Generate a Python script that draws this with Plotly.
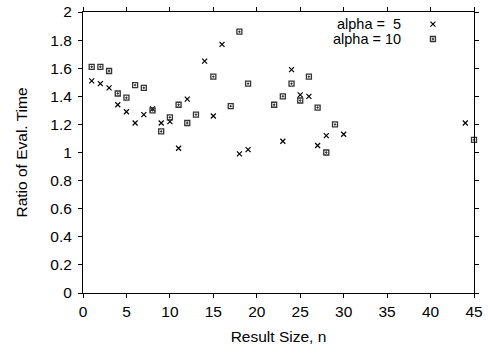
import plotly.graph_objects as go

x_a5 = [1, 2, 3, 4, 5, 6, 7, 8, 9, 10, 11, 12, 14, 15, 16, 18, 19, 23, 24, 25, 26, 27, 28, 30, 44]
y_a5 = [1.51, 1.49, 1.46, 1.34, 1.29, 1.21, 1.27, 1.31, 1.21, 1.22, 1.03, 1.38, 1.65, 1.26, 1.77,
        0.99, 1.02, 1.08, 1.59, 1.41, 1.40, 1.05, 1.12, 1.13, 1.21]

x_a10 = [1, 2, 3, 4, 5, 6, 7, 8, 9, 10, 11, 12, 13, 15, 17, 18, 19, 22, 23, 24, 25, 26, 27, 28, 29, 45]
y_a10 = [1.61, 1.61, 1.58, 1.42, 1.39, 1.48, 1.46, 1.30, 1.15, 1.25, 1.34, 1.21, 1.27, 1.54, 1.33,
         1.86, 1.49, 1.34, 1.40, 1.49, 1.37, 1.54, 1.32, 1.00, 1.20, 1.09]

series_names = ["alpha =  5", "alpha = 10"]
x_ticks = [0, 5, 10, 15, 20, 25, 30, 35, 40, 45]
y_ticks = [0, 0.2, 0.4, 0.6, 0.8, 1, 1.2, 1.4, 1.6, 1.8, 2]

FONT = "Liberation Sans, Arial, sans-serif"
FS = 15.5
mk5 = dict(symbol="x-thin-open", size=5, color="#000", line=dict(width=1.2, color="#000"))
mk10 = dict(symbol="square-open-dot", size=5, color="#333", line=dict(width=1.3, color="#333"))

fig = go.Figure()
fig.add_trace(go.Scatter(x=x_a5, y=y_a5, mode="markers", marker=mk5, name=series_names[0],
                         showlegend=False, cliponaxis=False))
fig.add_trace(go.Scatter(x=x_a10, y=y_a10, mode="markers", marker=mk10, name=series_names[1],
                         showlegend=False, cliponaxis=False))

# legend key samples on an overlay axis spanning [0, 1]
fig.add_trace(go.Scatter(x=[0.895], y=[0.957], mode="markers", marker=mk5, xaxis="x2", yaxis="y2",
                         showlegend=False, hoverinfo="skip", cliponaxis=False))
fig.add_trace(go.Scatter(x=[0.895], y=[0.904], mode="markers", marker=mk10, xaxis="x2", yaxis="y2",
                         showlegend=False, hoverinfo="skip", cliponaxis=False))
for name, yy in zip(series_names, [0.957, 0.904]):
    fig.add_annotation(x=0.815, y=yy, xref="paper", yref="paper", text=name, showarrow=False,
                       xanchor="right", yanchor="middle", borderpad=0,
                       font=dict(family=FONT, size=14.5, color="#000"))

axis_common = dict(showline=True, linecolor="#000", linewidth=1, mirror="ticks", ticks="outside",
                   ticklen=4, tickcolor="#000", showgrid=False, zeroline=False, automargin=False,
                   tickfont=dict(family=FONT, size=FS, color="#000"))
fig.update_layout(
    width=488, height=345,
    margin=dict(l=83, r=14, t=12, b=52),
    paper_bgcolor="white", plot_bgcolor="white",
    font=dict(family=FONT, size=FS, color="#000"),
    xaxis=dict(range=[0, 45], tickvals=x_ticks, ticktext=[str(v) for v in x_ticks],
               title=dict(text="Result Size, n", font=dict(family=FONT, size=FS), standoff=12),
               **axis_common),
    yaxis=dict(range=[0, 2], tickvals=y_ticks, ticktext=[f"{v:g}" for v in y_ticks],
               ticklabelstandoff=3,
               title=dict(text="Ratio of Eval. Time", font=dict(family=FONT, size=FS), standoff=18),
               **axis_common),
    xaxis2=dict(range=[0, 1], overlaying="x", visible=False),
    yaxis2=dict(range=[0, 1], overlaying="y", visible=False),
    showlegend=False,
)
fig.write_html("out.html", config={"displayModeBar": False},
               post_script="document.body.style.margin='0';document.body.style.overflow='hidden';")
